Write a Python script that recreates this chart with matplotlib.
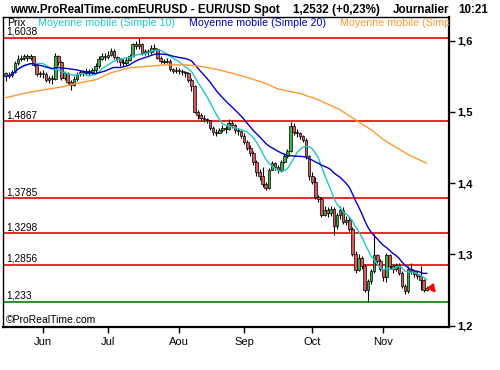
import numpy as np
import pandas as pd
import matplotlib
matplotlib.use("Agg")
import matplotlib.pyplot as plt

plt.rcParams['font.family'] = ['Liberation Sans', 'DejaVu Sans']

# daily EUR/USD, 15 May 2008 -> 21 Nov 2008
dates = pd.bdate_range("2008-05-15", "2008-11-21")
first_open = 1.5540
closes = [
    1.5500, 1.5520, 1.5560, 1.5680, 1.5750, 1.5760, 1.5790, 1.5760, 1.5780, 1.5660,
    1.5530, 1.5550, 1.5530, 1.5450, 1.5470, 1.5460, 1.5780, 1.5700, 1.5480, 1.5540,
    1.5420, 1.5380, 1.5460, 1.5530, 1.5560, 1.5550, 1.5580, 1.5560, 1.5590, 1.5640,
    1.5750, 1.5790, 1.5770, 1.5800, 1.5860, 1.5770, 1.5740, 1.5700, 1.5690, 1.5730,
    1.5780, 1.5950, 1.5930, 1.5960, 1.5830, 1.5860, 1.5840, 1.5900, 1.5880, 1.5760,
    1.5720, 1.5700, 1.5720, 1.5600, 1.5580, 1.5590, 1.5570, 1.5560, 1.5540, 1.5450,
    1.5360, 1.5000, 1.4950, 1.4920, 1.4900, 1.4880, 1.4780, 1.4720, 1.4710, 1.4740,
    1.4780, 1.4760, 1.4850, 1.4820, 1.4740, 1.4730, 1.4660, 1.4580, 1.4500, 1.4420,
    1.4300, 1.4150, 1.4100, 1.3990, 1.3930, 1.4180, 1.4280, 1.4230, 1.4180, 1.4300,
    1.4380, 1.4450, 1.4800, 1.4720, 1.4700, 1.4660, 1.4610, 1.4380, 1.4100, 1.4020,
    1.3800, 1.3770, 1.3550, 1.3620, 1.3580, 1.3640, 1.3400, 1.3550, 1.3620, 1.3450,
    1.3480, 1.3360, 1.3000, 1.2780, 1.2950, 1.2830, 1.2500, 1.2620, 1.2760, 1.2990,
    1.2900, 1.2800, 1.2680, 1.2990, 1.2830, 1.2790, 1.2850, 1.2740, 1.2560, 1.2490,
    1.2800, 1.2760, 1.2720, 1.2700, 1.2640, 1.2500, 1.2532]
highs = [
    1.5560, 1.5560, 1.5590, 1.5710, 1.5800, 1.5800, 1.5820, 1.5810, 1.5820, 1.5790,
    1.5670, 1.5580, 1.5590, 1.5560, 1.5510, 1.5520, 1.5830, 1.5800, 1.5710, 1.5580,
    1.5560, 1.5450, 1.5500, 1.5560, 1.5590, 1.5590, 1.5610, 1.5600, 1.5620, 1.5680,
    1.5780, 1.5830, 1.5830, 1.5850, 1.5900, 1.5880, 1.5790, 1.5760, 1.5740, 1.5770,
    1.5810, 1.5970, 1.5990, 1.6038, 1.5970, 1.5890, 1.5880, 1.5940, 1.5950, 1.5900,
    1.5790, 1.5750, 1.5760, 1.5740, 1.5620, 1.5630, 1.5610, 1.5600, 1.5580, 1.5560,
    1.5470, 1.5380, 1.5020, 1.4980, 1.4960, 1.4920, 1.4890, 1.4800, 1.4760, 1.4780,
    1.4810, 1.4800, 1.4900, 1.4880, 1.4830, 1.4780, 1.4740, 1.4700, 1.4600, 1.4540,
    1.4450, 1.4320, 1.4200, 1.4230, 1.4020, 1.4210, 1.4310, 1.4300, 1.4260, 1.4330,
    1.4420, 1.4480, 1.4860, 1.4840, 1.4760, 1.4720, 1.4680, 1.4630, 1.4400, 1.4150,
    1.4080, 1.3830, 1.3800, 1.3680, 1.3660, 1.3680, 1.3660, 1.3580, 1.3680, 1.3660,
    1.3540, 1.3520, 1.3390, 1.3040, 1.3010, 1.2980, 1.2860, 1.2650, 1.2790, 1.3290,
    1.3010, 1.2930, 1.2800, 1.3020, 1.3000, 1.2870, 1.2880, 1.2880, 1.2770, 1.2580,
    1.2840, 1.2880, 1.2780, 1.2760, 1.2830, 1.2660, 1.2560]
lows = [
    1.5440, 1.5470, 1.5490, 1.5540, 1.5660, 1.5710, 1.5730, 1.5720, 1.5730, 1.5640,
    1.5500, 1.5490, 1.5480, 1.5420, 1.5400, 1.5390, 1.5450, 1.5660, 1.5450, 1.5450,
    1.5390, 1.5310, 1.5360, 1.5440, 1.5500, 1.5500, 1.5520, 1.5520, 1.5530, 1.5550,
    1.5620, 1.5730, 1.5730, 1.5740, 1.5780, 1.5740, 1.5700, 1.5650, 1.5640, 1.5660,
    1.5710, 1.5770, 1.5880, 1.5890, 1.5800, 1.5800, 1.5800, 1.5820, 1.5850, 1.5740,
    1.5680, 1.5670, 1.5680, 1.5570, 1.5540, 1.5550, 1.5530, 1.5520, 1.5490, 1.5420,
    1.5300, 1.4980, 1.4900, 1.4870, 1.4860, 1.4840, 1.4750, 1.4680, 1.4660, 1.4700,
    1.4720, 1.4710, 1.4740, 1.4780, 1.4700, 1.4680, 1.4630, 1.4550, 1.4460, 1.4380,
    1.4260, 1.4100, 1.4050, 1.3950, 1.3903, 1.3920, 1.4180, 1.4180, 1.4140, 1.4160,
    1.4280, 1.4350, 1.4440, 1.4680, 1.4650, 1.4620, 1.4580, 1.4340, 1.4050, 1.3990,
    1.3770, 1.3740, 1.3530, 1.3540, 1.3520, 1.3540, 1.3270, 1.3360, 1.3500, 1.3420,
    1.3410, 1.3330, 1.2980, 1.2740, 1.2760, 1.2800, 1.2470, 1.2330, 1.2580, 1.2740,
    1.2860, 1.2760, 1.2620, 1.2610, 1.2790, 1.2740, 1.2760, 1.2710, 1.2520, 1.2440,
    1.2460, 1.2730, 1.2680, 1.2660, 1.2500, 1.2470, 1.2480]

# long moving average at a few days
ma_long_idx = [0, 8, 18, 24, 29, 34, 40, 46, 51, 58, 63, 69, 75, 79, 84, 88,
               95, 101, 108, 114, 118, 122, 130, 136]
ma_long_val = [1.520, 1.528, 1.535, 1.541, 1.545, 1.555, 1.562, 1.564, 1.566,
               1.566, 1.564, 1.559, 1.552, 1.547, 1.540, 1.532, 1.526, 1.517,
               1.503, 1.486, 1.475, 1.461, 1.440, 1.428]

red_levels = [1.6038, 1.4867, 1.3785, 1.3298, 1.2856]
green_levels = [1.233, 1.1915]
month_labels = ["Jun", "Jul", "Aou", "Sep", "Oct", "Nov"]
price_ticks = [1.2, 1.3, 1.4, 1.5, 1.6]

closes = np.array(closes)
highs = np.array(highs)
lows = np.array(lows)
opens = np.concatenate([[first_open], closes[:-1]])
x = np.arange(len(closes))
ma10 = pd.Series(closes).rolling(10, min_periods=1).mean()
ma20 = pd.Series(closes).rolling(20, min_periods=1).mean()

W, H = 500, 370
fig = plt.figure(figsize=(5, 3.7), dpi=100)
ax = fig.add_axes([3/W, 43/H, 446/W, 310/H])


def axpos(px, py):
    return (px - 3) / 446, (327 - py) / 310


for lv in red_levels:
    ax.axhline(lv, color='#ee0000', lw=1.2, zorder=1)
for lv in green_levels:
    ax.axhline(lv, color='#008000', lw=1.2, zorder=1)
for lv in red_levels + green_levels[:1]:
    ax.text(axpos(6, 0)[0], lv + 0.0015, f"{lv}".replace('.', ','),
            transform=ax.get_yaxis_transform(), fontsize=7.3, va='bottom')

# candles
ax.vlines(x, lows, highs, color='black', lw=0.8, zorder=2)
up = closes >= opens
body = np.maximum(np.abs(closes - opens), 0.0012)
ax.bar(x[up], body[up], bottom=opens[up], width=0.85, color='#3cb043',
       edgecolor='black', lw=0.5, zorder=3)
ax.bar(x[~up], body[~up], bottom=closes[~up], width=0.85, color='#d65a5a',
       edgecolor='black', lw=0.5, zorder=3)

ax.plot(x, ma10, color='#1ec8c8', lw=1, zorder=4)
ax.plot(x, ma20, color='#0000c8', lw=1, zorder=4)
ax.plot(ma_long_idx, ma_long_val, color='#ff9933', lw=1, zorder=4)

ax.annotate("", xy=(139.5, 1.2425), xytext=(137.2, 1.2555),
            arrowprops=dict(arrowstyle='-|>', color='red', lw=1.5,
                            mutation_scale=11), zorder=5)

ax.set_xlim(-0.9, 143.2)
ax.set_ylim(1.1979, 1.6333)

month_pos = [int(np.argmax(dates.month == m)) for m in range(6, 12)]
ax.set_xticks(month_pos)
ax.set_xticklabels(month_labels, fontsize=8)
ax.tick_params('x', direction='out', length=4, width=1, pad=3)

ax.yaxis.tick_right()
ax.set_yticks(price_ticks)
ax.set_yticklabels([f"{t}".replace('.', ',') for t in price_ticks],
                   fontsize=8, fontweight='bold')
ax.tick_params('y', direction='out', length=4, width=1, pad=2)

for side in ['left', 'top']:
    ax.spines[side].set_linewidth(1)
for side in ['right', 'bottom']:
    ax.spines[side].set_linewidth(1.6)

# legend row inside the frame
legend_items = [("Prix", 'black', 7), ("Moyenne mobile (Simple 10)", '#1ec8c8', 38),
                ("Moyenne mobile (Simple 20)", '#0000c8', 189),
                ("Moyenne mobile (Simple 100)", '#ff9933', 340)]
for txt, col, px in legend_items:
    ax.text(*axpos(px, 23), txt, transform=ax.transAxes, color=col,
            fontsize=7.7, va='center', ha='left', clip_on=True)
ax.text(*axpos(6, 320), "\u00a9ProRealTime.com", transform=ax.transAxes,
        fontsize=7.5, va='center', ha='left')

# header
header = [("www.ProRealTime.comEURUSD - EUR/USD Spot", 10),
          ("1,2532 (+0,23%)", 293), ("Journalier", 393), ("10:21", 458)]
for txt, px in header:
    fig.text(px / W, 1 - 10 / H, txt, fontsize=8.4, fontweight='bold',
             va='center', ha='left')

fig.savefig("out.png", dpi=100)
